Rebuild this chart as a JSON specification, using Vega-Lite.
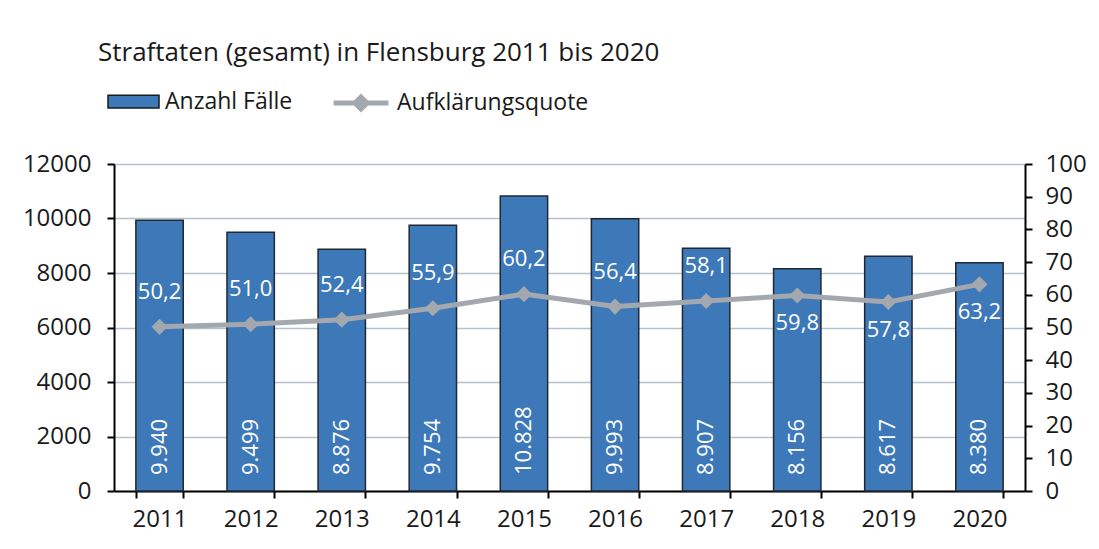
{
  "$schema": "https://vega.github.io/schema/vega-lite/v6.json",
  "width": 911,
  "height": 327,
  "autosize": {"type": "none"},
  "padding": {"left": 114, "top": 164, "right": 74, "bottom": 58},
  "config": {
    "locale": {"number": {"decimal": ",", "thousands": ".", "grouping": [3], "currency": ["", " €"]}},
    "font": "Open Sans",
    "view": {"stroke": null},
    "legend": {"padding": 0}
  },
  "title": {
    "text": "Straftaten (gesamt) in Flensburg 2011 bis 2020",
    "anchor": "start",
    "frame": "group",
    "dx": -16,
    "offset": 7,
    "fontSize": 26,
    "fontWeight": "normal",
    "color": "#1a1a1a"
  },
  "data": {
    "values": [
      {"year": "2011", "cases": 9940, "quote": 50.2, "pos": "above"},
      {"year": "2012", "cases": 9499, "quote": 51.0, "pos": "above"},
      {"year": "2013", "cases": 8876, "quote": 52.4, "pos": "above"},
      {"year": "2014", "cases": 9754, "quote": 55.9, "pos": "above"},
      {"year": "2015", "cases": 10828, "quote": 60.2, "pos": "above"},
      {"year": "2016", "cases": 9993, "quote": 56.4, "pos": "above"},
      {"year": "2017", "cases": 8907, "quote": 58.1, "pos": "above"},
      {"year": "2018", "cases": 8156, "quote": 59.8, "pos": "below"},
      {"year": "2019", "cases": 8617, "quote": 57.8, "pos": "below"},
      {"year": "2020", "cases": 8380, "quote": 63.2, "pos": "below"}
    ]
  },
  "encoding": {
    "x": {
      "field": "year",
      "type": "ordinal",
      "scale": {"paddingInner": 0.48, "paddingOuter": 0.24},
      "axis": {
        "title": null,
        "labelAngle": 0,
        "labelFontSize": 24,
        "labelColor": "#1a1a1a",
        "domainColor": "#000000",
        "domainWidth": 2,
        "tickColor": "#000000",
        "tickWidth": 2,
        "tickSize": 7,
        "tickBand": "extent",
        "labelPadding": 9
      }
    }
  },
  "layer": [
    {
      "encoding": {
        "y": {
          "field": "cases",
          "type": "quantitative",
          "scale": {"domain": [0, 12000]},
          "axis": {
            "title": null,
            "orient": "left",
            "values": [0, 2000, 4000, 6000, 8000, 10000, 12000],
            "format": "d",
            "grid": true,
            "gridColor": "#B7C1CB",
            "gridWidth": 1.5,
            "labelFontSize": 24,
            "labelColor": "#1a1a1a",
            "domainColor": "#000000",
            "domainWidth": 2,
            "tickColor": "#000000",
            "tickWidth": 2,
            "tickSize": 7,
            "labelPadding": 16
          }
        }
      },
      "layer": [
        {
          "mark": {"type": "bar", "stroke": "#1f2833", "strokeWidth": 1.5},
          "encoding": {
            "fill": {
              "datum": "Anzahl Fälle",
              "type": "nominal",
              "scale": {"range": ["#3D78B8"]},
              "legend": {
                "title": null,
                "orient": "none",
                "legendX": -7,
                "legendY": -89,
                "symbolType": "M-1,-0.25H1V0.25H-1Z",
                "symbolSize": 2601,
                "symbolStrokeColor": "#1a1a1a",
                "symbolStrokeWidth": 1.5,
                "symbolOpacity": 1,
                "labelFontSize": 23,
                "labelColor": "#1a1a1a",
                "labelOffset": 5,
                "labelLimit": 400
              }
            }
          }
        },
        {
          "mark": {"type": "text", "angle": 270, "align": "left", "baseline": "middle", "dx": 16, "color": "#ffffff", "fontSize": 22},
          "encoding": {
            "y": {"datum": 0},
            "text": {"field": "cases", "type": "quantitative", "format": ",.0f"}
          }
        }
      ]
    },
    {
      "encoding": {
        "y": {
          "field": "quote",
          "type": "quantitative",
          "scale": {"domain": [0, 100]},
          "axis": {
            "title": null,
            "orient": "right",
            "values": [0, 10, 20, 30, 40, 50, 60, 70, 80, 90, 100],
            "grid": false,
            "labelFontSize": 24,
            "labelColor": "#1a1a1a",
            "domainColor": "#000000",
            "domainWidth": 2,
            "tickColor": "#000000",
            "tickWidth": 2,
            "tickSize": 7,
            "labelPadding": 13
          }
        }
      },
      "layer": [
        {
          "mark": {"type": "line", "strokeWidth": 5},
          "encoding": {
            "stroke": {
              "datum": "Aufklärungsquote",
              "type": "nominal",
              "scale": {"range": ["#A3A8AE"]},
              "legend": {
                "title": null,
                "orient": "none",
                "legendX": 217,
                "legendY": -91,
                "symbolType": "M-1,0H1M-0.22,0L0,-0.22L0.22,0L0,0.22Z",
                "symbolSize": 3025,
                "symbolStrokeWidth": 5,
                "symbolFillColor": "#A3A8AE",
                "labelFontSize": 23,
                "labelColor": "#1a1a1a",
                "labelOffset": 6,
                "labelLimit": 400
              }
            }
          }
        },
        {
          "mark": {"type": "point", "shape": "diamond", "size": 260, "filled": true, "color": "#A3A8AE", "opacity": 1}
        },
        {
          "transform": [{"filter": "datum.pos == 'above'"}],
          "mark": {"type": "text", "dy": -35, "color": "#ffffff", "fontSize": 22},
          "encoding": {"text": {"field": "quote", "type": "quantitative", "format": ".1f"}}
        },
        {
          "transform": [{"filter": "datum.pos == 'below'"}],
          "mark": {"type": "text", "dy": 28, "color": "#ffffff", "fontSize": 22},
          "encoding": {"text": {"field": "quote", "type": "quantitative", "format": ".1f"}}
        }
      ]
    }
  ],
  "resolve": {"scale": {"y": "independent"}}
}
